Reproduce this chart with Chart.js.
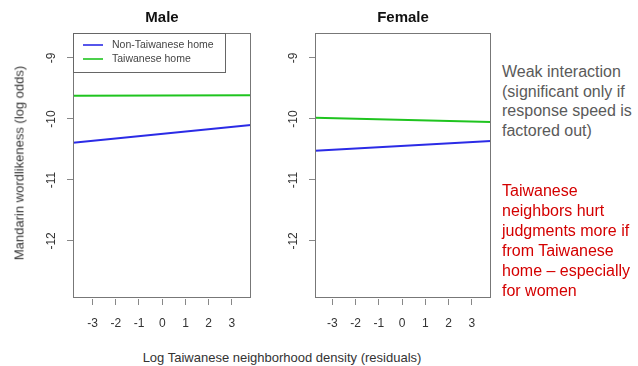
<!DOCTYPE html>
<html>
<head>
<meta charset="utf-8">
<script src="https://cdn.jsdelivr.net/npm/chart.js@4.4.1/dist/chart.umd.min.js"></script>
<style>
  html, body { margin: 0; padding: 0; background: #fff; }
  #wrap { position: relative; width: 638px; height: 366px; overflow: hidden;
          font-family: "Liberation Sans", Arial, sans-serif; }
  canvas { position: absolute; top: 0; }
  #male { left: 0; }
  #female { left: 242px; }
  .txt { position: absolute; white-space: nowrap; }
  #ytitle { left: 19px; top: 163px; font-size: 13px; color: #333;
            transform: translate(-50%, -50%) rotate(-90deg); }
  #xtitle { left: 282px; top: 357px; font-size: 13px; color: #333;
            transform: translate(-50%, -50%); }
  #note1 { left: 502px; top: 62px; font-size: 16px; line-height: 19.6px; color: #5a5a5a; }
  #note2 { left: 502px; top: 180.5px; font-size: 16px; line-height: 20px; color: #d40000; }
</style>
</head>
<body>
<div id="wrap">
  <canvas id="male" width="262" height="340"></canvas>
  <canvas id="female" width="260" height="340"></canvas>
  <div class="txt" id="ytitle"></div>
  <div class="txt" id="xtitle"></div>
  <div class="txt" id="note1"></div>
  <div class="txt" id="note2"></div>
</div>
<script>
// Panel titles and series names
const panelTitles = ['Male', 'Female'];
const seriesLabels = ['Non-Taiwanese home', 'Taiwanese home'];
const seriesColors = ['#2b2be6', '#1fc41f'];

// Fitted lines: neighborhood density (residuals) at both ends, predicted log odds
const maleDensity = [-3.84, 3.82];
const maleNonTaiwanese = [-10.39, -10.10];
const maleTaiwanese = [-9.62, -9.61];

const femaleDensity = [-3.74, 3.82];
const femaleNonTaiwanese = [-10.52, -10.36];
const femaleTaiwanese = [-9.98, -10.05];

// Axis ticks and ranges
const xTicks = [-3, -2, -1, 0, 1, 2, 3];
const yTicks = [-9, -10, -11, -12];
const yRange = [-12.92, -8.59];
const maleXRange = [-3.84, 3.82];
const femaleXRange = [-3.74, 3.82];

// Labels
const yTitle = 'Mandarin wordlikeness (log odds)';
const xTitle = 'Log Taiwanese neighborhood density (residuals)';
const weakNote = ['Weak interaction', '(significant only if', 'response speed is', 'factored out)'];
const keyNote = ['Taiwanese', 'neighbors hurt', 'judgments more if', 'from Taiwanese', 'home \u2013 especially', 'for women'];

document.getElementById('ytitle').textContent = yTitle;
document.getElementById('xtitle').textContent = xTitle;
document.getElementById('note1').innerHTML = weakNote.join('<br>');
document.getElementById('note2').innerHTML = keyNote.join('<br>');

Chart.defaults.font.family = '"Liberation Sans", Arial, sans-serif';

// Frame around the plotting region
const frame = {
  id: 'frame',
  afterDatasetsDraw(chart) {
    const a = chart.chartArea, c = chart.ctx;
    c.save();
    c.strokeStyle = '#777';
    c.lineWidth = 1;
    c.strokeRect(Math.round(a.left) + 0.5, Math.round(a.top) + 0.5,
                 Math.round(a.right - a.left) - 1, Math.round(a.bottom - a.top));
    c.restore();
  }
};

// Boxed key in the top-left corner of the panel
const boxedKey = {
  id: 'boxedKey',
  afterDraw(chart, args, opts) {
    if (!opts.show) return;
    const a = chart.chartArea, c = chart.ctx;
    const x0 = Math.round(a.left) + 0.5, y0 = Math.round(a.top) + 0.5;
    c.save();
    c.fillStyle = '#fff';
    c.fillRect(x0, y0, 152, 39);
    c.strokeStyle = '#666';
    c.lineWidth = 1;
    c.strokeRect(x0, y0, 152, 39);
    c.font = '10.5px "Liberation Sans", Arial, sans-serif';
    c.textBaseline = 'middle';
    chart.data.datasets.forEach((ds, i) => {
      const y = Math.round(a.top) + 12 + i * 14;
      c.strokeStyle = ds.borderColor;
      c.lineWidth = 1.6;
      c.beginPath();
      c.moveTo(a.left + 10, y);
      c.lineTo(a.left + 30, y);
      c.stroke();
      c.fillStyle = '#444';
      c.fillText(ds.label, a.left + 39, y + 0.5);
    });
    c.restore();
  }
};

function panel(id, title, xs, nonTw, tw, xRange, showKey) {
  const pts = vals => xs.map((x, i) => ({ x: x, y: vals[i] }));
  return new Chart(document.getElementById(id), {
    type: 'line',
    data: {
      datasets: [
        { label: seriesLabels[0], data: pts(nonTw), borderColor: seriesColors[0], borderWidth: 2, pointRadius: 0, tension: 0 },
        { label: seriesLabels[1], data: pts(tw), borderColor: seriesColors[1], borderWidth: 2, pointRadius: 0, tension: 0 }
      ]
    },
    options: {
      responsive: false,
      animation: false,
      events: [],
      layout: { padding: { left: 0, right: 11, top: 0, bottom: 0 } },
      plugins: {
        legend: { display: false },
        tooltip: { enabled: false },
        title: {
          display: true, text: title, fullSize: false, color: '#111',
          font: { size: 15, weight: 'bold' }, padding: { top: 9, bottom: 6 }
        },
        boxedKey: { show: showKey }
      },
      scales: {
        x: {
          type: 'linear', min: xRange[0], max: xRange[1],
          afterBuildTicks: s => { s.ticks = xTicks.map(v => ({ value: v })); },
          afterFit: s => { s.height = 43; },
          border: { display: false },
          grid: { drawOnChartArea: false, tickLength: 8, tickColor: '#888', tickWidth: 1, tickBorderDash: [0, 2, 6, 100] },
          ticks: { color: '#333', font: { size: 12 }, padding: 11, maxRotation: 0, autoSkip: false }
        },
        y: {
          type: 'linear', min: yRange[0], max: yRange[1],
          afterBuildTicks: s => { s.ticks = yTicks.map(v => ({ value: v })); },
          afterFit: s => { s.width = 73; },
          border: { display: false },
          grid: { drawOnChartArea: false, tickLength: 6, tickColor: '#888', tickWidth: 1 },
          ticks: { color: '#333', font: { size: 12 }, padding: 7, minRotation: 90, maxRotation: 90, crossAlign: 'center', autoSkip: false }
        }
      }
    },
    plugins: [frame, boxedKey]
  });
}

panel('male', panelTitles[0], maleDensity, maleNonTaiwanese, maleTaiwanese, maleXRange, true);
panel('female', panelTitles[1], femaleDensity, femaleNonTaiwanese, femaleTaiwanese, femaleXRange, false);
</script>
</body>
</html>
